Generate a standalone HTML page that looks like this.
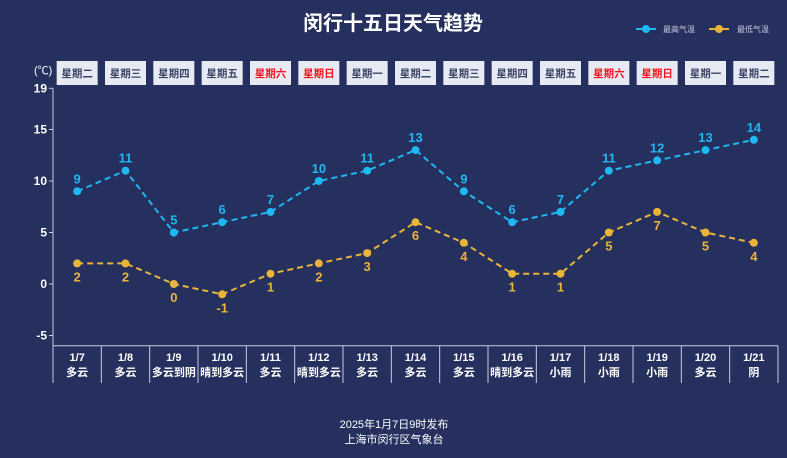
<!DOCTYPE html>
<html><head><meta charset="utf-8"><style>
body{margin:0;background:#25305f;width:787px;height:453px;overflow:hidden;font-family:"Liberation Sans","Noto Sans CJK SC",sans-serif}
svg text{font-family:"Liberation Sans","Noto Sans CJK SC",sans-serif}
</style></head><body>
<svg id="c" width="787" height="453">
<text x="393" y="30" text-anchor="middle" fill="#fff" font-size="20" font-weight="bold">闵行十五日天气趋势</text>
<g>
<line x1="636" y1="29" x2="656" y2="29" stroke="#1fb8f0" stroke-width="2"/><circle cx="646" cy="29" r="4" fill="#1fb8f0"/>
<text x="663" y="32" fill="#ccd" font-size="8">最高气温</text>
<line x1="709" y1="29" x2="729" y2="29" stroke="#e8b53a" stroke-width="2"/><circle cx="719" cy="29" r="4" fill="#e8b53a"/>
<text x="737" y="32" fill="#ccd" font-size="8">最低气温</text>
</g>
<text x="34" y="74" fill="#fff" font-size="11">(℃)</text>
<text x="394" y="428" text-anchor="middle" fill="#fff" font-size="11">2025年1月7日9时发布</text>
<text x="394" y="443" text-anchor="middle" fill="#fff" font-size="11">上海市闵行区气象台</text>
</svg>
<script>
const dates=["1/7","1/8","1/9","1/10","1/11","1/12","1/13","1/14","1/15","1/16","1/17","1/18","1/19","1/20","1/21"];
const weather=["多云","多云","多云到阴","晴到多云","多云","晴到多云","多云","多云","多云","晴到多云","小雨","小雨","小雨","多云","阴"];
const weekdays=["星期二","星期三","星期四","星期五","星期六","星期日","星期一","星期二","星期三","星期四","星期五","星期六","星期日","星期一","星期二"];
const highs=[9,11,5,6,7,10,11,13,9,6,7,11,12,13,14];
const lows=[2,2,0,-1,1,2,3,6,4,1,1,5,7,5,4];
const yTicks=[19,15,10,5,0,-5];
const svg=document.getElementById('c');const NS='http://www.w3.org/2000/svg';
const X0=53,X1=778,cw=(X1-X0)/dates.length;
const x=i=>X0+cw*(i+0.5);const y=v=>284-10.3*v;
function mk(t,a,p){const e=document.createElementNS(NS,t);for(const k in a)e.setAttribute(k,a[k]);(p||svg).appendChild(e);return e;}
mk('line',{x1:X0,y1:y(19),x2:X0,y2:383,stroke:'#c8cde0'});
mk('line',{x1:X0,y1:y(-6),x2:X1,y2:y(-6),stroke:'#c8cde0'});
yTicks.forEach(v=>{mk('line',{x1:X0-4,y1:y(v),x2:X0,y2:y(v),stroke:'#c8cde0'});
const t=mk('text',{x:X0-6,y:y(v)+4,'text-anchor':'end',fill:'#fff','font-size':12,'font-weight':'bold'});t.textContent=v;

});
dates.forEach((d,i)=>{
mk('line',{x1:X0+cw*(i+1),y1:y(-6),x2:X0+cw*(i+1),y2:383,stroke:'#c8cde0'});
let t=mk('text',{x:x(i),y:361,'text-anchor':'middle',fill:'#fff','font-size':11,'font-weight':'bold'});t.textContent=d;


t=mk('text',{x:x(i),y:376,'text-anchor':'middle',fill:'#fff','font-size':11,'font-weight':'bold'});t.textContent=weather[i];


const r=mk('rect',{x:x(i)-20.5,y:61,width:41,height:24,fill:'#e8eaf3'});


const red=weekdays[i]==='星期六'||weekdays[i]==='星期日';
t=mk('text',{x:x(i),y:77,'text-anchor':'middle',fill:red?'#f0141e':'#3a4466','font-size':10.5,'font-weight':'bold'});t.textContent=weekdays[i];


});
[[highs,'#1fb8f0',-1],[lows,'#e8b53a',1]].forEach(([arr,col,dir])=>{
const l=mk('polyline',{points:arr.map((v,i)=>x(i)+','+y(v)).join(' '),fill:'none',stroke:col,'stroke-width':2,'stroke-dasharray':'6,4'});


arr.forEach((v,i)=>{const c=mk('circle',{cx:x(i),cy:y(v),r:4,fill:col});


const t=mk('text',{x:x(i),y:y(v)+(dir<0?-8:18),'text-anchor':'middle',fill:col,'font-size':13,'font-weight':'bold'});t.textContent=v;

});
});
</script>
</body></html>
